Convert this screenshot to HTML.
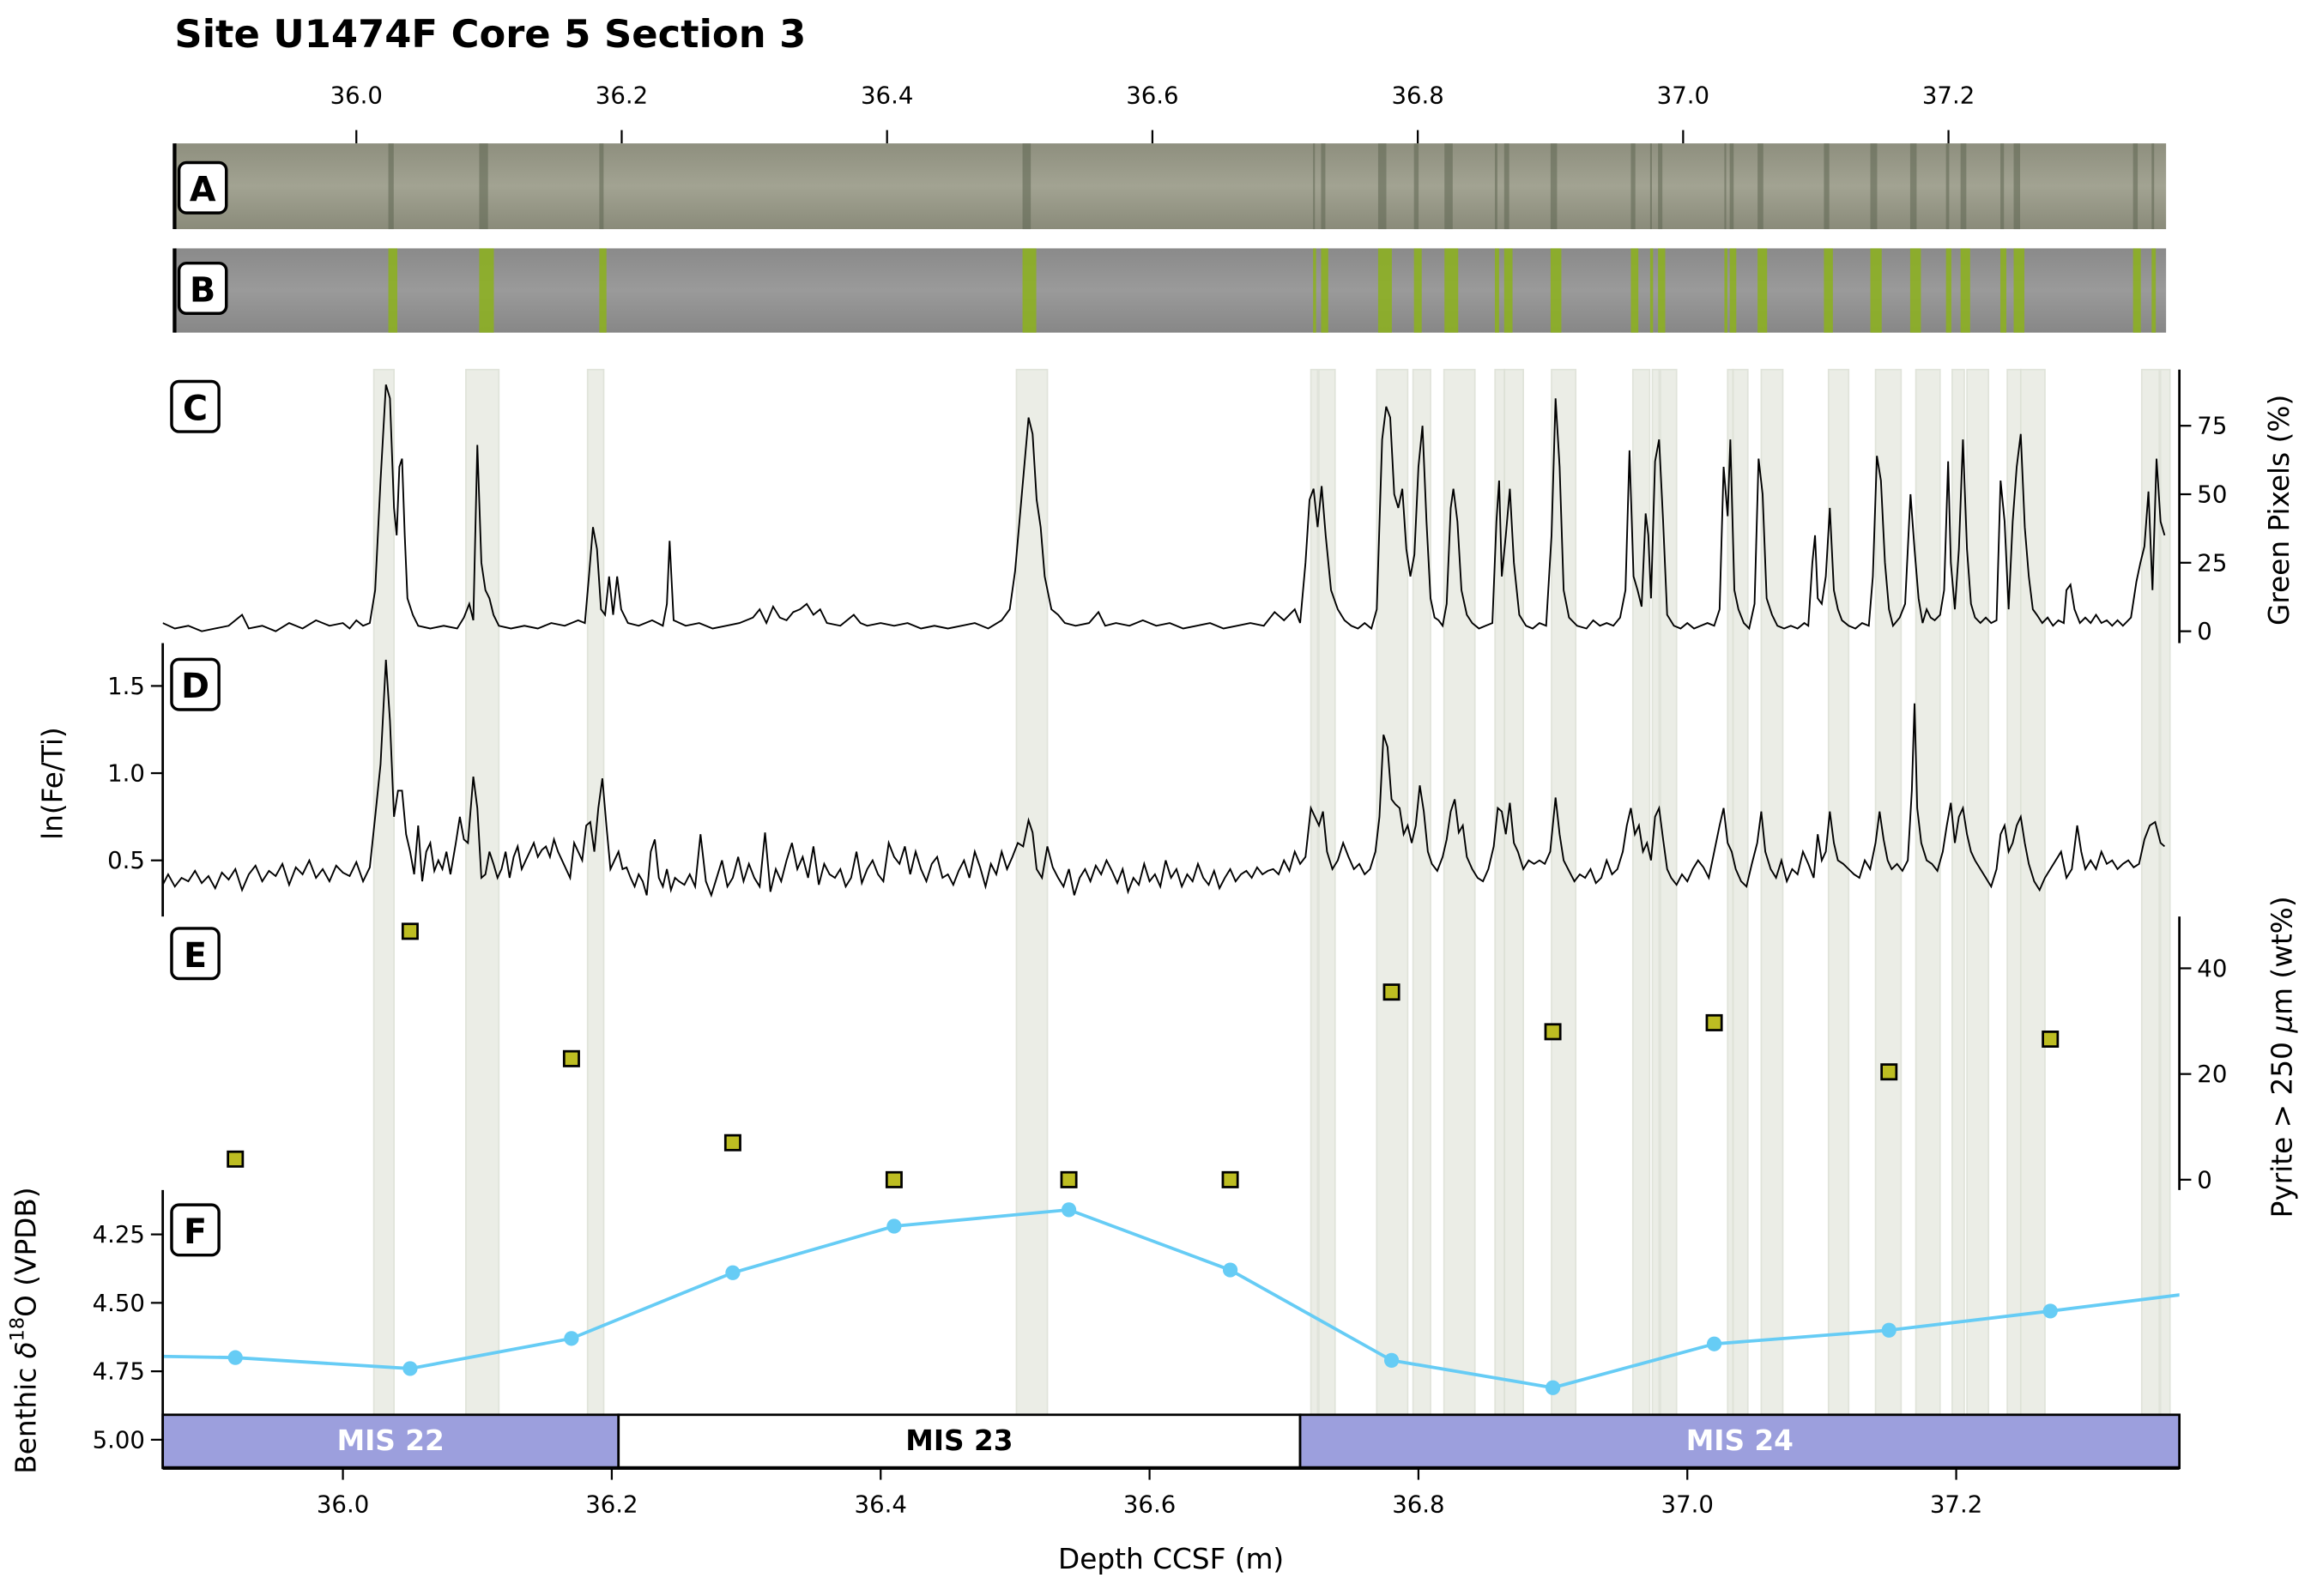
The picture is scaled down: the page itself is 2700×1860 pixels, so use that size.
<!DOCTYPE html>
<html><head><meta charset="utf-8"><style>
html,body{margin:0;padding:0;background:#fff}
svg{display:block}
text{font-family:"DejaVu Sans","Liberation Sans",sans-serif}
</style></head><body>
<svg id="fig" xmlns="http://www.w3.org/2000/svg" width="2700" height="1860" viewBox="0 0 1567 1079.6">
<defs>
<clipPath id="clipC"><rect x="110" y="250" width="1364" height="186"/></clipPath>
<clipPath id="clipD"><rect x="110" y="435" width="1364" height="186"/></clipPath>
<clipPath id="clipF"><rect x="110" y="805" width="1364" height="152"/></clipPath>
<linearGradient id="gA" x1="0" y1="0" x2="0" y2="1"><stop offset="0" stop-color="#8e8f7e"/><stop offset="0.5" stop-color="#a2a392"/><stop offset="1" stop-color="#8a8b7a"/></linearGradient>
<linearGradient id="gB" x1="0" y1="0" x2="0" y2="1"><stop offset="0" stop-color="#8a8a8a"/><stop offset="0.5" stop-color="#9a9a9a"/><stop offset="1" stop-color="#878787"/></linearGradient>
</defs>
<text x="118" y="32" font-size="26" font-weight="bold">Site U1474F Core 5 Section 3</text>
<g id="gTop"></g>
<g id="gImg"></g>
<g id="gBands"></g>
<g id="gC"></g>
<g id="gD"></g>
<g id="gE"></g>
<g id="gF"></g>
<g id="gMIS"></g>
<g id="gBot"></g>
<g id="gLab"></g>
</svg>
<script>
const depthTicks=[36.0,36.2,36.4,36.6,36.8,37.0,37.2];
const bandStarts=[36.023,36.0915,36.182,36.501,36.720,36.726,36.769,36.796,36.819,36.857,36.864,36.899,36.9595,36.974,36.980,37.030,37.034,37.055,37.105,37.140,37.170,37.197,37.208,37.238,37.248,37.338,37.352];
const bandEnds=[36.038,36.116,36.194,36.524,36.725,36.738,36.792,36.809,36.842,36.864,36.878,36.917,36.972,36.979,36.992,37.034,37.045,37.071,37.120,37.159,37.188,37.206,37.224,37.248,37.266,37.351,37.359];
const greenData=[[35.866,3],[35.875,1],[35.885,2],[35.895,0],[35.905,1],[35.915,2],[35.925,6],[35.93,1],[35.94,2],[35.95,0],[35.96,3],[35.97,1],[35.98,4],[35.99,2],[36.0,3],[36.005,1],[36.01,4],[36.015,2],[36.02,3],[36.024,15],[36.028,55],[36.032,90],[36.035,85],[36.038,45],[36.040,35],[36.042,60],[36.044,63],[36.046,35],[36.048,12],[36.052,6],[36.056,2],[36.065,1],[36.075,2],[36.085,1],[36.09,5],[36.094,10],[36.097,4],[36.100,68],[36.103,25],[36.106,15],[36.109,12],[36.112,6],[36.116,2],[36.125,1],[36.135,2],[36.145,1],[36.155,3],[36.165,2],[36.175,4],[36.18,3],[36.183,20],[36.186,38],[36.189,30],[36.192,8],[36.195,6],[36.198,20],[36.201,6],[36.204,20],[36.207,8],[36.212,3],[36.22,2],[36.23,4],[36.238,2],[36.241,10],[36.243,33],[36.246,4],[36.255,2],[36.265,3],[36.275,1],[36.285,2],[36.295,3],[36.305,5],[36.31,8],[36.315,3],[36.32,9],[36.325,5],[36.33,4],[36.335,7],[36.34,8],[36.345,10],[36.35,6],[36.355,8],[36.36,3],[36.37,2],[36.38,6],[36.385,3],[36.39,2],[36.4,3],[36.41,2],[36.42,3],[36.43,1],[36.44,2],[36.45,1],[36.46,2],[36.47,3],[36.48,1],[36.49,4],[36.496,8],[36.5,22],[36.505,50],[36.51,78],[36.513,72],[36.516,48],[36.519,38],[36.522,20],[36.527,8],[36.532,6],[36.537,3],[36.545,2],[36.555,3],[36.562,7],[36.567,2],[36.575,3],[36.585,2],[36.595,4],[36.605,2],[36.615,3],[36.625,1],[36.635,2],[36.645,3],[36.655,1],[36.665,2],[36.675,3],[36.685,2],[36.693,7],[36.70,4],[36.708,8],[36.712,3],[36.716,25],[36.719,48],[36.722,52],[36.725,38],[36.728,53],[36.731,35],[36.735,15],[36.74,8],[36.745,4],[36.75,2],[36.755,1],[36.76,3],[36.765,1],[36.769,8],[36.773,70],[36.776,82],[36.779,78],[36.782,50],[36.785,45],[36.788,52],[36.791,30],[36.794,20],[36.797,28],[36.8,60],[36.803,75],[36.806,40],[36.809,12],[36.812,5],[36.815,4],[36.818,2],[36.821,10],[36.824,45],[36.826,52],[36.829,40],[36.832,15],[36.836,6],[36.84,3],[36.845,1],[36.85,2],[36.855,3],[36.858,40],[36.86,55],[36.862,20],[36.865,35],[36.868,52],[36.871,25],[36.875,6],[36.88,2],[36.885,1],[36.89,3],[36.895,2],[36.899,35],[36.902,85],[36.905,60],[36.908,15],[36.912,5],[36.918,2],[36.925,1],[36.93,4],[36.935,2],[36.94,3],[36.945,2],[36.95,5],[36.954,15],[36.957,66],[36.96,20],[36.963,15],[36.966,9],[36.969,43],[36.971,35],[36.973,12],[36.976,62],[36.979,70],[36.982,40],[36.985,6],[36.99,2],[36.995,1],[37.0,3],[37.005,1],[37.01,2],[37.015,3],[37.02,2],[37.024,8],[37.027,60],[37.03,42],[37.032,70],[37.035,15],[37.038,8],[37.042,3],[37.046,1],[37.05,10],[37.053,63],[37.056,50],[37.059,12],[37.063,6],[37.067,2],[37.072,1],[37.077,2],[37.082,1],[37.087,3],[37.09,2],[37.093,25],[37.095,35],[37.097,12],[37.1,10],[37.103,20],[37.106,45],[37.109,15],[37.112,8],[37.115,4],[37.12,2],[37.125,1],[37.13,3],[37.135,2],[37.138,20],[37.141,64],[37.144,55],[37.147,25],[37.15,8],[37.153,2],[37.158,5],[37.162,10],[37.166,50],[37.169,30],[37.172,12],[37.175,3],[37.178,8],[37.181,5],[37.184,4],[37.188,6],[37.191,15],[37.194,62],[37.196,25],[37.199,8],[37.202,30],[37.205,70],[37.208,30],[37.211,10],[37.214,5],[37.218,3],[37.222,5],[37.226,3],[37.23,4],[37.233,55],[37.236,40],[37.239,8],[37.242,40],[37.245,60],[37.248,72],[37.251,38],[37.254,20],[37.257,8],[37.26,6],[37.264,3],[37.268,5],[37.272,2],[37.276,4],[37.28,3],[37.282,15],[37.285,17],[37.288,8],[37.292,3],[37.296,5],[37.3,3],[37.304,6],[37.308,3],[37.312,4],[37.316,2],[37.32,4],[37.324,2],[37.33,5],[37.334,18],[37.337,25],[37.34,31],[37.343,51],[37.346,15],[37.349,63],[37.352,40],[37.355,35]];
const feTiData=[[35.866,.36],[35.87,.42],[35.875,.35],[35.88,.40],[35.885,.38],[35.89,.44],[35.895,.37],[35.90,.41],[35.905,.34],[35.91,.43],[35.915,.39],[35.92,.45],[35.925,.33],[35.93,.42],[35.935,.47],[35.94,.38],[35.945,.44],[35.95,.41],[35.955,.48],[35.96,.36],[35.965,.46],[35.97,.42],[35.975,.50],[35.98,.40],[35.985,.45],[35.99,.38],[35.995,.47],[36.0,.43],[36.005,.41],[36.01,.49],[36.015,.38],[36.02,.46],[36.024,.75],[36.028,1.05],[36.032,1.65],[36.035,1.3],[36.038,.75],[36.041,.90],[36.044,.90],[36.047,.65],[36.05,.55],[36.053,.42],[36.056,.70],[36.059,.38],[36.062,.55],[36.065,.60],[36.068,.44],[36.071,.50],[36.074,.45],[36.077,.55],[36.08,.42],[36.084,.60],[36.087,.75],[36.09,.62],[36.093,.60],[36.097,.98],[36.10,.80],[36.103,.40],[36.106,.42],[36.109,.55],[36.112,.48],[36.115,.40],[36.118,.45],[36.121,.55],[36.124,.40],[36.127,.52],[36.13,.58],[36.133,.45],[36.136,.50],[36.139,.55],[36.142,.60],[36.145,.52],[36.148,.56],[36.151,.58],[36.154,.52],[36.157,.62],[36.16,.55],[36.163,.50],[36.166,.45],[36.169,.40],[36.172,.60],[36.175,.55],[36.178,.50],[36.181,.70],[36.184,.72],[36.187,.55],[36.19,.80],[36.193,.97],[36.196,.70],[36.199,.45],[36.202,.50],[36.205,.55],[36.208,.45],[36.211,.46],[36.214,.40],[36.217,.35],[36.22,.42],[36.223,.38],[36.226,.30],[36.229,.55],[36.232,.62],[36.235,.40],[36.238,.35],[36.241,.45],[36.244,.33],[36.247,.40],[36.25,.38],[36.254,.36],[36.258,.42],[36.262,.35],[36.266,.65],[36.27,.38],[36.274,.30],[36.278,.40],[36.282,.50],[36.286,.35],[36.29,.40],[36.294,.52],[36.298,.38],[36.302,.48],[36.306,.40],[36.31,.35],[36.314,.66],[36.318,.32],[36.322,.45],[36.326,.38],[36.33,.50],[36.334,.60],[36.338,.45],[36.342,.52],[36.346,.40],[36.35,.58],[36.354,.36],[36.358,.48],[36.362,.42],[36.366,.40],[36.37,.45],[36.374,.35],[36.378,.40],[36.382,.55],[36.386,.37],[36.39,.45],[36.394,.50],[36.398,.42],[36.402,.38],[36.406,.60],[36.41,.52],[36.414,.48],[36.418,.58],[36.422,.42],[36.426,.55],[36.43,.45],[36.434,.38],[36.438,.48],[36.442,.52],[36.446,.40],[36.45,.42],[36.454,.36],[36.458,.44],[36.462,.50],[36.466,.40],[36.47,.55],[36.474,.46],[36.478,.35],[36.482,.48],[36.486,.42],[36.49,.55],[36.494,.45],[36.498,.52],[36.502,.60],[36.506,.58],[36.51,.73],[36.513,.66],[36.516,.45],[36.52,.40],[36.524,.58],[36.528,.46],[36.532,.40],[36.536,.35],[36.54,.45],[36.544,.30],[36.548,.40],[36.552,.45],[36.556,.38],[36.56,.47],[36.564,.42],[36.568,.50],[36.572,.44],[36.576,.37],[36.58,.45],[36.584,.32],[36.588,.40],[36.592,.36],[36.596,.48],[36.60,.38],[36.604,.42],[36.608,.35],[36.612,.50],[36.616,.40],[36.62,.45],[36.624,.35],[36.628,.42],[36.632,.38],[36.636,.48],[36.64,.40],[36.644,.36],[36.648,.44],[36.652,.34],[36.656,.40],[36.66,.45],[36.664,.38],[36.668,.42],[36.672,.44],[36.676,.40],[36.68,.46],[36.684,.42],[36.688,.44],[36.692,.45],[36.696,.42],[36.70,.50],[36.704,.44],[36.708,.55],[36.712,.48],[36.716,.52],[36.72,.80],[36.723,.75],[36.726,.70],[36.729,.78],[36.732,.55],[36.736,.45],[36.74,.50],[36.744,.60],[36.748,.52],[36.752,.45],[36.756,.48],[36.76,.42],[36.764,.45],[36.768,.55],[36.771,.75],[36.774,1.22],[36.777,1.15],[36.78,.85],[36.783,.82],[36.786,.80],[36.789,.65],[36.792,.70],[36.795,.60],[36.798,.70],[36.801,.93],[36.804,.78],[36.807,.55],[36.81,.48],[36.814,.44],[36.818,.52],[36.821,.62],[36.824,.78],[36.827,.85],[36.83,.66],[36.833,.70],[36.836,.52],[36.84,.45],[36.844,.40],[36.848,.38],[36.852,.45],[36.856,.58],[36.859,.80],[36.862,.78],[36.865,.65],[36.868,.83],[36.871,.60],[36.874,.55],[36.878,.45],[36.882,.50],[36.886,.48],[36.89,.50],[36.894,.48],[36.898,.55],[36.902,.86],[36.905,.65],[36.908,.50],[36.912,.44],[36.916,.38],[36.92,.42],[36.924,.40],[36.928,.45],[36.932,.37],[36.936,.40],[36.94,.50],[36.944,.42],[36.948,.45],[36.952,.55],[36.955,.70],[36.958,.80],[36.961,.65],[36.964,.70],[36.967,.55],[36.97,.60],[36.973,.50],[36.976,.75],[36.979,.80],[36.982,.62],[36.985,.45],[36.988,.40],[36.992,.36],[36.996,.42],[37.0,.38],[37.004,.45],[37.008,.50],[37.012,.46],[37.016,.40],[37.02,.55],[37.024,.70],[37.027,.80],[37.03,.60],[37.033,.55],[37.036,.45],[37.04,.38],[37.044,.35],[37.048,.48],[37.052,.60],[37.055,.78],[37.058,.55],[37.062,.45],[37.066,.40],[37.07,.50],[37.074,.38],[37.078,.45],[37.082,.42],[37.086,.55],[37.09,.48],[37.094,.40],[37.097,.65],[37.10,.50],[37.103,.55],[37.106,.78],[37.109,.60],[37.112,.50],[37.116,.48],[37.12,.45],[37.124,.42],[37.128,.40],[37.132,.50],[37.136,.45],[37.14,.60],[37.143,.78],[37.146,.62],[37.149,.50],[37.152,.45],[37.156,.48],[37.16,.44],[37.164,.50],[37.167,.90],[37.169,1.40],[37.171,.80],[37.174,.60],[37.178,.50],[37.182,.48],[37.186,.44],[37.19,.55],[37.193,.70],[37.196,.83],[37.199,.60],[37.202,.75],[37.205,.80],[37.208,.65],[37.211,.55],[37.214,.50],[37.218,.45],[37.222,.40],[37.226,.35],[37.23,.45],[37.233,.65],[37.236,.70],[37.239,.55],[37.242,.60],[37.245,.70],[37.248,.75],[37.251,.60],[37.254,.48],[37.258,.38],[37.262,.33],[37.266,.40],[37.27,.45],[37.274,.50],[37.278,.55],[37.282,.40],[37.286,.45],[37.29,.70],[37.293,.55],[37.296,.45],[37.30,.50],[37.304,.45],[37.308,.55],[37.312,.48],[37.316,.50],[37.32,.45],[37.324,.48],[37.328,.50],[37.332,.46],[37.336,.48],[37.34,.62],[37.344,.70],[37.348,.72],[37.352,.60],[37.355,.58]];
const sampleDepths=[35.92,36.05,36.17,36.29,36.41,36.54,36.66,36.78,36.90,37.02,37.15,37.27];
const pyriteValues=[3.9,47,22.9,7,0,0,0,35.5,28,29.7,20.4,26.6];
const benthicValues=[4.70,4.74,4.63,4.39,4.22,4.16,4.38,4.71,4.81,4.65,4.60,4.53];
const benthicEdgeDepths=[35.80,37.40];
const benthicEdgeValues=[4.69,4.45];
const greenTicks=[0,25,50,75];
const feTiTicks=[0.5,1.0,1.5];
const pyriteTicks=[0,20,40];
const benthicTicks=[4.25,4.50,4.75,5.00];
const misNames=["MIS 22","MIS 23","MIS 24"];
const misStarts=[35.866,36.205,36.712];
const misEnds=[36.205,36.712,37.366];

const NS="http://www.w3.org/2000/svg";
function mk(tag,attrs,parent){const e=document.createElementNS(NS,tag);for(const k in attrs)e.setAttribute(k,attrs[k]);parent.appendChild(e);return e;}
const D0=35.866,D1=37.366,XL=110,XR=1474;
const xB=d=>XL+(d-D0)/(D1-D0)*(XR-XL);
const xT=d=>118+(d-35.863)/(37.364-35.863)*(1465-118);
const yC=v=>427-v*(139/75);
const yD=v=>582-(v-0.5)*118;
const yE=v=>798-v*3.575;
const yF=v=>835+(v-4.25)*185.2;
const $=id=>document.getElementById(id);

const gTop=$('gTop');
depthTicks.forEach(t=>{
 const l=mk('line',{x1:xT(t),x2:xT(t),y1:88,y2:97,stroke:'#000','stroke-width':1.3},gTop);
 
 
 const tx=mk('text',{x:xT(t),y:70,'font-size':16,'text-anchor':'middle'},gTop);
 tx.textContent=t.toFixed(1);
 
 
});
const gImg=$('gImg');
const imA=mk('rect',{x:118,y:97,width:1347,height:58,fill:'url(#gA)'},gImg);


const imB=mk('rect',{x:118,y:168,width:1347,height:57,fill:'url(#gB)'},gImg);


bandStarts.forEach((s,i)=>{
 const e=bandEnds[i];const w=Math.max(2,(xT(e)-xT(s))*0.45);
 const sa=mk('rect',{x:xT(s)+1,y:97,width:w*0.6,height:58,fill:'#5e6652',opacity:0.55},gImg);
 
 
 const sb=mk('rect',{x:xT(s)+1,y:168,width:w,height:57,fill:'#8cb21c',opacity:0.85},gImg);
 
 
});
[[118,97,155],[118,168,225]].forEach(a=>{const l=mk('line',{x1:a[0],x2:a[0],y1:a[1],y2:a[2],stroke:'#000','stroke-width':2.5},gImg);});
const gBands=$('gBands');
bandStarts.forEach((s,i)=>{
 const r=mk('rect',{x:xB(s),y:250,width:xB(bandEnds[i])-xB(s),height:707,fill:'#e9ece4',stroke:'#dde1d6','stroke-width':1,opacity:0.9},gBands);
 
 
});
function line(g,data,yf,clip,name){
 const p=mk('path',{d:data.map((q,i)=>(i?'L':'M')+xB(q[0]).toFixed(2)+','+yf(q[1]).toFixed(2)).join(''),fill:'none',stroke:'#000','stroke-width':1.1,'clip-path':clip},g);
 
 
}
function yaxis(g,x,y1,y2,ticks,yf,right,fmt,name){
 const s=mk('line',{x1:x,x2:x,y1:y1,y2:y2,stroke:'#000','stroke-width':1.6},g);
 
 
 ticks.forEach(t=>{
  const y=yf(t);
  const tk=mk('line',{x1:x,x2:right?x+8:x-8,y1:y,y2:y,stroke:'#000','stroke-width':1.3},g);
  
  
  const tx=mk('text',{x:right?x+12:x-12,y:y+5.5,'font-size':16,'text-anchor':right?'start':'end'},g);
  tx.textContent=fmt(t);
  
  
 });
}
const gC=$('gC');
line(gC,greenData,yC,'url(#clipC)','green-pixels-line');
yaxis(gC,1474,250,435,greenTicks,yC,true,t=>String(t),'green-axis');
const gD=$('gD');
line(gD,feTiData,yD,'url(#clipD)','fe-ti-line');
yaxis(gD,110,435,620,feTiTicks,yD,false,t=>t.toFixed(1),'fe-ti-axis');
const gE=$('gE');
sampleDepths.forEach((d,i)=>{
 const r=mk('rect',{x:xB(d)-5,y:yE(pyriteValues[i])-5,width:10,height:10,fill:'#bdbd22',stroke:'#000','stroke-width':1.6},gE);
 
 
});
yaxis(gE,1474,620,805,pyriteTicks,yE,true,t=>String(t),'pyrite-axis');
const gF=$('gF');
const fd=[[benthicEdgeDepths[0],benthicEdgeValues[0]]].concat(sampleDepths.map((d,i)=>[d,benthicValues[i]])).concat([[benthicEdgeDepths[1],benthicEdgeValues[1]]]);
const fp=mk('path',{d:fd.map((q,i)=>(i?'L':'M')+xB(q[0]).toFixed(2)+','+yF(q[1]).toFixed(2)).join(''),fill:'none',stroke:'#66ccf5','stroke-width':2.2,'clip-path':'url(#clipF)'},gF);


sampleDepths.forEach((d,i)=>{
 const c=mk('circle',{cx:xB(d),cy:yF(benthicValues[i]),r:5,fill:'#66ccf5'},gF);
 
 
});
yaxis(gF,110,805,993,benthicTicks,yF,false,t=>t.toFixed(2),'benthic-axis');
const gM=$('gMIS');
misNames.forEach((n,i)=>{
 const purple=i!==1;
 const r=mk('rect',{x:xB(misStarts[i]),y:957,width:xB(misEnds[i])-xB(misStarts[i]),height:36,fill:purple?'#9c9fdd':'#fff',stroke:'#000','stroke-width':1.6},gM);
 
 
 const t=mk('text',{x:(xB(misStarts[i])+xB(misEnds[i]))/2,y:981,'font-size':19,'font-weight':'bold','text-anchor':'middle',fill:purple?'#fff':'#000'},gM);
 t.textContent=n;
 
 
});
const gBot=$('gBot');
const bs=mk('line',{x1:110,x2:1474,y1:993,y2:993,stroke:'#000','stroke-width':2.4},gBot);


depthTicks.forEach(t=>{
 const l=mk('line',{x1:xB(t),x2:xB(t),y1:993,y2:1001,stroke:'#000','stroke-width':1.3},gBot);
 
 
 const tx=mk('text',{x:xB(t),y:1023,'font-size':16,'text-anchor':'middle'},gBot);
 tx.textContent=t.toFixed(1);
 
 
});
const gL=$('gLab');
function lab(txt,x,y,rot,name,html){
 const t=mk('text',{x:x,y:y,'font-size':19,'text-anchor':'middle',transform:rot?`rotate(-90 ${x} ${y})`:''},gL);
 if(html)t.innerHTML=html;else t.textContent=txt;
 
 
}
lab('Depth CCSF (m)',792,1061,false,'x-axis-title');
lab('ln(Fe/Ti)',42,530,true,'fe-ti-axis-title');
lab('Green Pixels (%)',1548,345,true,'green-axis-title');
lab('Pyrite > 250 μm (wt%)',1550,715,true,'pyrite-axis-title','Pyrite &gt; 250 <tspan font-style="italic">μ</tspan>m (wt%)');
lab('Benthic δ18O (VPDB)',24,900,true,'benthic-axis-title','Benthic <tspan font-style="italic">δ</tspan><tspan font-size="13" dy="-8">18</tspan><tspan dy="8">O (VPDB)</tspan>');
[['A',121,110],['B',121,178],['C',116,258],['D',116,446],['E',116,628],['F',116,815]].forEach(a=>{
 const r=mk('rect',{x:a[1],y:a[2],width:32,height:34,rx:5,fill:'#fff',stroke:'#000','stroke-width':2},gL);
 
 
 const t=mk('text',{x:a[1]+16,y:a[2]+26,'font-size':23,'font-weight':'bold','text-anchor':'middle'},gL);
 t.textContent=a[0];
 
 
});
</script>
</body></html>
